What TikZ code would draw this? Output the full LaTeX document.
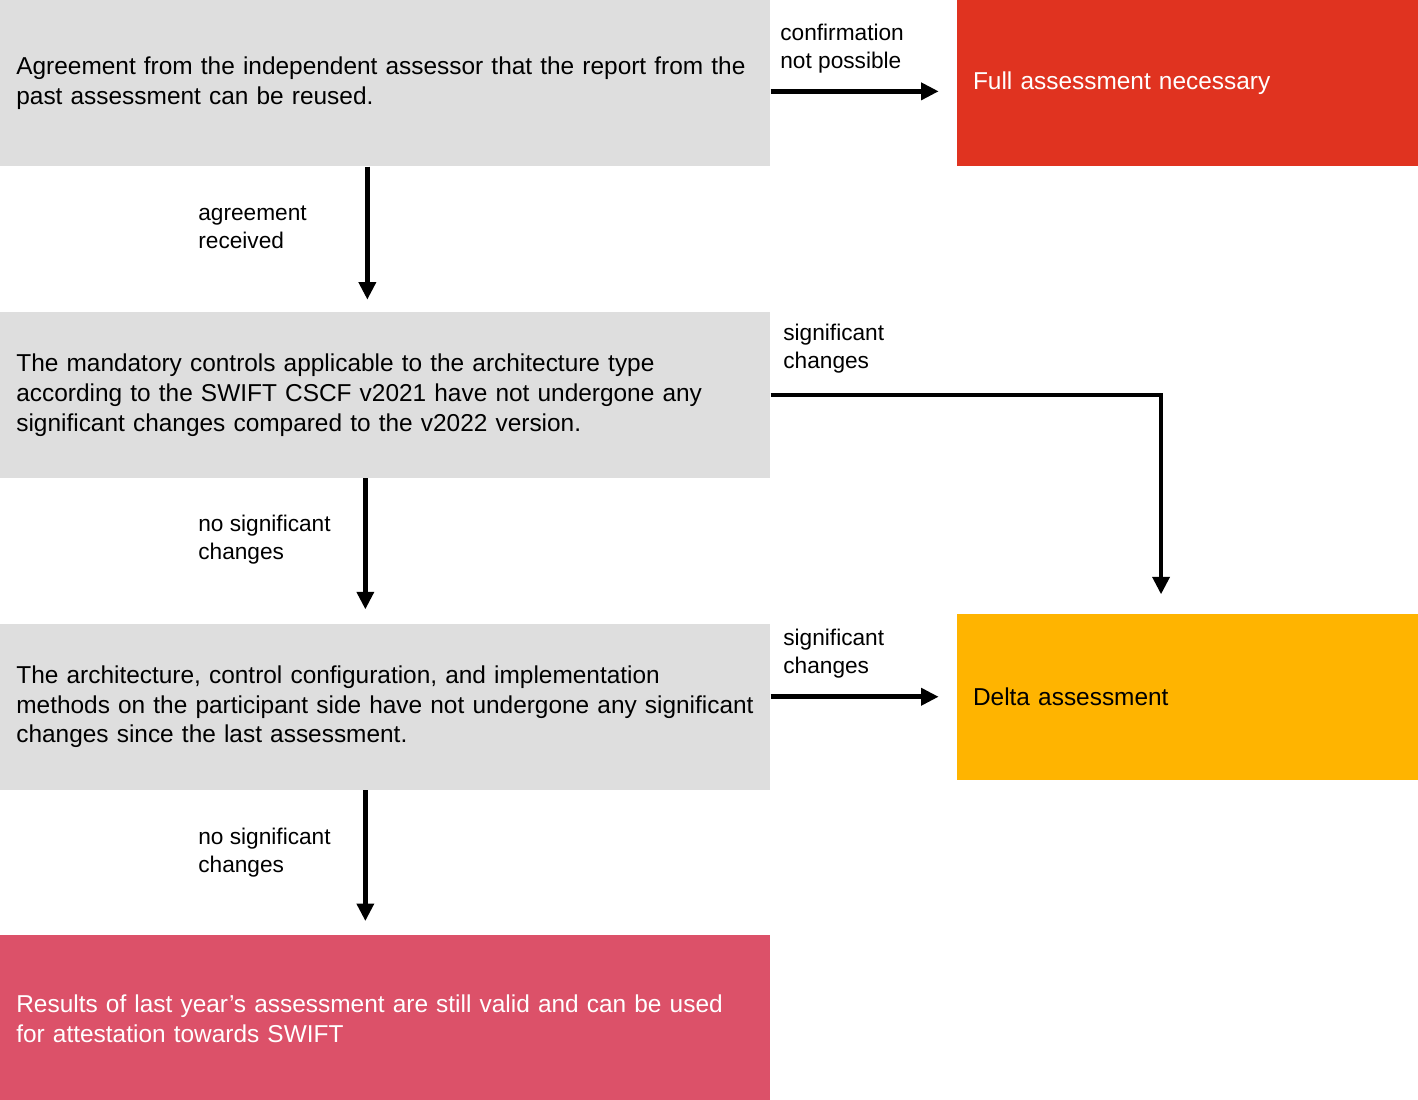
\documentclass[tikz,border=0pt]{standalone}
\usepackage{fontspec}
\setmainfont{Liberation Sans}
\usepackage{tikz}
\usetikzlibrary{positioning, arrows.meta}
\definecolor{boxgray}{HTML}{DEDEDE}
\definecolor{fullred}{HTML}{E03320}
\definecolor{deltayellow}{HTML}{FFB400}
\definecolor{resultpink}{HTML}{DC5169}

\begin{document}
\begin{tikzpicture}[main/.style = {rectangle, fill=boxgray, minimum height=3.32cm, text width=14.76cm, inner xsep=0.32cm, align=left, font=\fontsize{13.9}{17}\selectfont},
    side/.style = {rectangle, minimum height=3.32cm, text width=8.6cm, inner xsep=0.32cm, align=left, font=\fontsize{13.9}{17}\selectfont},
    lbl/.style = {align=left, inner sep=0pt, anchor=west, font=\fontsize{12.9}{15.9}\selectfont},
    arr/.style = {line width=2.7pt, -{Triangle[length=10pt, width=9.5pt]}}]
    \useasboundingbox (0,0) rectangle (28.36,-22);
    \node[main, anchor=north west] (box1) at (0,0) {Agreement from the independent assessor that the report from the\\past assessment can be reused.};
    \node[main] (box2) [below = 2.9cm of box1] {The mandatory controls applicable to the architecture type\\according to the SWIFT CSCF v2021 have not undergone any\\significant changes compared to the v2022 version.};
    \node[main] (box3) [below = 2.9cm of box2] {The architecture, control configuration, and implementation\\methods on the participant side have not undergone any significant\\changes since the last assessment.};
    \node[main, fill=resultpink, text=white] (result) [below = 2.9cm of box3] {Results of last year’s assessment are still valid and can be used\\for attestation towards SWIFT};
    \node[side, fill=fullred, text=white] (full) [right = 3.72cm of box1] {Full assessment necessary};
    \node[side, fill=deltayellow] (delta) [right = 3.72cm of box3, yshift=0.2cm] {Delta assessment};

    \node[lbl] (l1) at (15.6,-0.98) {confirmation\\not possible};
    \node[lbl] (l2) at (3.96,-4.55) {agreement\\received};
    \node[lbl] (l3) at (15.66,-6.98) {significant\\changes};
    \node[lbl] (l4) at (3.96,-10.8) {no significant\\changes};
    \node[lbl] (l5) at (15.66,-13.08) {significant\\changes};
    \node[lbl] (l6) at (3.96,-17.05) {no significant\\changes};

    \draw[arr, shorten >=0.36cm] ([yshift=-0.16cm]box1.east) -- ([yshift=-0.16cm]full.west);
    \draw[arr, shorten >=0.24cm] ([xshift=-0.36cm]box1.south) -- ([xshift=-0.36cm]box2.north);
    \draw[arr, shorten >=0.38cm] (box2.east) -| ([xshift=-0.54cm]delta.north);
    \draw[arr, shorten >=0.28cm] ([xshift=-0.4cm]box2.south) -- ([xshift=-0.4cm]box3.north);
    \draw[arr, shorten >=0.36cm] (box3.east |- delta.west) -- (delta.west);
    \draw[arr, shorten >=0.28cm] ([xshift=-0.4cm]box3.south) -- ([xshift=-0.4cm]result.north);
\end{tikzpicture}
\end{document}
